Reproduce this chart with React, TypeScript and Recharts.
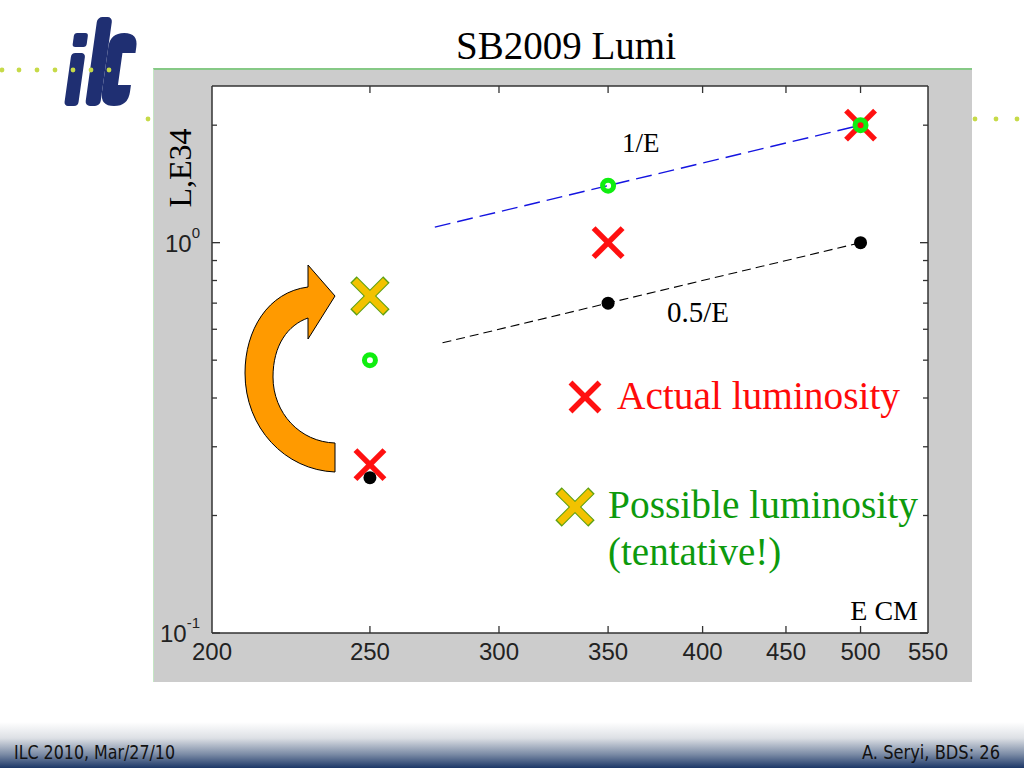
import React from 'react';
import { ScatterChart, Scatter, XAxis, YAxis, CartesianGrid } from 'recharts';

// ---- data ----
const energyTicks = [200, 250, 300, 350, 400, 450, 500, 550];
const lumTicks = [0.1, 0.2, 0.3, 0.4, 0.5, 0.6, 0.7, 0.8, 0.9, 1, 2];
const energies = [250, 350, 500];
const baselineLum = [0.25, 0.70, 1.0]; // black dots
const designLum = [0.50, 1.40, 2.0]; // green circles
const actualLum = [0.27, 1.0, 2.0]; // red crosses
const possibleE = [250];
const possibleLum = [0.73]; // yellow cross
const invELineE = [274, 500];
const invELineL = [1.096, 2.0];
const halfInvELineE = [277, 500];
const halfInvELineL = [0.554, 1.0];

const zip = (xs: number[], ys: number[]) => xs.map((E, i) => ({ E, L: ys[i] }));
const blackData = zip(energies, baselineLum);
const greenData = zip(energies, designLum);
const redData = zip(energies, actualLum);
const yellowData = zip(possibleE, possibleLum);
const blueLineData = zip(invELineE, invELineL);
const blackLineData = zip(halfInvELineE, halfInvELineL);

const SANS = '"Liberation Sans", Arial, sans-serif';
const SERIF = '"Liberation Serif", "Times New Roman", serif';
const AX = '#333';

const isMajor = (v: number) => v === 0.1 || v === 1;

const LeftTick = (props: any) => {
  const { x, y, payload } = props;
  const v = payload.value;
  const exp = v === 1 ? '0' : v === 0.1 ? '-1' : null;
  return (
    <g>
      <line x1={x} y1={y} x2={x + (isMajor(v) ? 8 : 5)} y2={y} stroke={AX} strokeWidth={1.3} />
      {exp !== null && (
        <text x={x - 12} y={y + 9} textAnchor="end" fontFamily={SANS} fontSize={24} fill="#222">
          10<tspan dy={-14} fontSize={15}>{exp}</tspan>
        </text>
      )}
    </g>
  );
};

const RightTick = (props: any) => {
  const { x, y, payload } = props;
  const v = payload.value;
  return <line x1={x - (isMajor(v) ? 8 : 5)} y1={y} x2={x} y2={y} stroke={AX} strokeWidth={1.3} />;
};

const BottomTick = (props: any) => {
  const { x, y, payload } = props;
  const v = payload.value;
  return (
    <g>
      {v > 200 && v < 550 && <line x1={x} y1={y} x2={x} y2={y - 7} stroke={AX} strokeWidth={1.3} />}
      <text x={x} y={y + 27} textAnchor="middle" fontFamily={SANS} fontSize={24} fill="#222">
        {v}
      </text>
    </g>
  );
};

const TopTick = (props: any) => {
  const { x, y, payload } = props;
  const v = payload.value;
  if (!(v > 200 && v < 550)) return <g />;
  return <line x1={x} y1={y} x2={x} y2={y + 7} stroke={AX} strokeWidth={1.3} />;
};

const RedCross = ({ cx, cy }: any) => (
  <g>
    <line x1={cx - 14.5} y1={cy - 14.5} x2={cx + 14.5} y2={cy + 14.5} stroke="#ff1010" strokeWidth={5.5} />
    <line x1={cx - 14.5} y1={cy + 14.5} x2={cx + 14.5} y2={cy - 14.5} stroke="#ff1010" strokeWidth={5.5} />
  </g>
);

const YellowCross = ({ cx, cy }: any) => (
  <g>
    <line x1={cx - 16.5} y1={cy - 16.5} x2={cx + 16.5} y2={cy + 16.5} stroke="#5aa010" strokeWidth={9} />
    <line x1={cx - 16.5} y1={cy + 16.5} x2={cx + 16.5} y2={cy - 16.5} stroke="#5aa010" strokeWidth={9} />
    <line x1={cx - 15.5} y1={cy - 15.5} x2={cx + 15.5} y2={cy + 15.5} stroke="#f2c200" strokeWidth={7} />
    <line x1={cx - 15.5} y1={cy + 15.5} x2={cx + 15.5} y2={cy - 15.5} stroke="#f2c200" strokeWidth={7} />
  </g>
);

const BlackDot = ({ cx, cy }: any) => <circle cx={cx} cy={cy} r={6.5} fill="#000" />;
const GreenRing = ({ cx, cy }: any) => (
  <circle cx={cx} cy={cy} r={5.5} fill="none" stroke="#10ee10" strokeWidth={5} />
);
const Nothing = () => <g />;

const FOOT_FONT = '"Liberation Sans Narrow", "DejaVu Sans Condensed", sans-serif';

const Decorations = () => (
  <svg
    width={1024}
    height={768}
    style={{ position: 'absolute', left: 0, top: 0, pointerEvents: 'none' }}
  >
    <defs>
      <linearGradient id="foot" x1="0" y1="0" x2="0" y2="1">
        <stop offset="0" stopColor="#ffffff" />
        <stop offset="0.35" stopColor="#dde0e5" />
        <stop offset="0.7" stopColor="#7c8ca6" />
        <stop offset="1" stopColor="#1c3767" />
      </linearGradient>
    </defs>
    {/* logo */}
    <g transform="translate(0,106) skewX(-8) translate(0,-106)" fill="#1f2f72">
      <rect x={64} y={53} width={14} height={53} rx={4} />
      <rect x={64} y={33} width={14} height={14} rx={3} />
      <rect x={85} y={17} width={15} height={89} rx={5} />
      <path d="M128,53 L128,47 Q128,33 114,33 Q100,33 100,47 L100,92 Q100,106 114,106 Q128,106 128,92 L128,85 L115,85 L115,53 Z" />
    </g>
    {[2, 19, 37, 55, 73, 91, 109].map((x) => (
      <circle key={x} cx={x} cy={70} r={2.4} fill="#c6da48" />
    ))}
    <circle cx={148} cy={119} r={2.4} fill="#c6da48" />
    {[975, 996, 1017].map((x) => (
      <circle key={x} cx={x} cy={119} r={2.4} fill="#c6da48" />
    ))}
    {/* title */}
    <text x={566} y={59} textAnchor="middle" fontFamily={SERIF} fontSize={39} fill="#000">
      SB2009 Lumi
    </text>
    {/* axis titles */}
    <text
      x={191}
      y={168}
      transform="rotate(-90 191 168)"
      textAnchor="middle"
      fontFamily={SERIF}
      fontSize={32}
      fill="#000"
    >
      L,E34
    </text>
    <text x={918} y={620} textAnchor="end" fontFamily={SERIF} fontSize={28} fill="#000">
      E CM
    </text>
    {/* line labels */}
    <text x={622} y={152} fontFamily={SERIF} fontSize={27} fill="#000">
      1/E
    </text>
    <text x={667} y={322} fontFamily={SERIF} fontSize={29} fill="#000">
      0.5/E
    </text>
    {/* legend annotations */}
    <RedCross cx={585} cy={397} />
    <text x={617} y={409} fontFamily={SERIF} fontSize={39} fill="#ff0a0a" textLength={283} lengthAdjust="spacingAndGlyphs">
      Actual luminosity
    </text>
    <YellowCross cx={575} cy={507} />
    <text x={608} y={518} fontFamily={SERIF} fontSize={39} fill="#0d9a0d" textLength={310} lengthAdjust="spacingAndGlyphs">
      Possible luminosity
    </text>
    <text x={608} y={565} fontFamily={SERIF} fontSize={39} fill="#0d9a0d">
      (tentative!)
    </text>
    {/* curved arrow */}
    <path
      d="M308,287 C268,292 245,330 245,373 C245,428 285,470 335,472 L335,443 C300,442 273,413 273,377 C273,345 288,325 308,318 L308,339 L335,296 L308,265 Z"
      fill="#ff9a00"
      stroke="#000"
      strokeWidth={1}
    />
    {/* footer */}
    <rect x={0} y={722} width={1024} height={46} fill="url(#foot)" />
    <text x={14} y={759} fontFamily={FOOT_FONT} fontSize={19} fill="#111" textLength={161} lengthAdjust="spacingAndGlyphs">
      ILC 2010, Mar/27/10
    </text>
    <text x={862} y={759} fontFamily={FOOT_FONT} fontSize={19} fill="#111" textLength={138} lengthAdjust="spacingAndGlyphs">
      A. Seryi, BDS: 26
    </text>
  </svg>
);

export default function App() {
  return (
    <div style={{ position: 'absolute', left: 0, top: 0, width: 1024, height: 768, overflow: 'hidden', background: '#fff' }}>
      <div
        style={{
          position: 'absolute',
          left: 153,
          top: 68,
          width: 819,
          height: 614,
          background: '#cccccc',
          borderTop: '2px solid #86c986',
          borderLeft: '1px solid #c4e6c4',
          boxSizing: 'border-box',
        }}
      />
      <div style={{ position: 'absolute', left: 0, top: 0 }}>
        <ScatterChart width={1024} height={768} margin={{ top: 85, right: 95, bottom: 134, left: 211 }}>
          <CartesianGrid fill="#ffffff" horizontal={false} vertical={false} />
          <XAxis
            xAxisId="b"
            dataKey="E"
            type="number"
            scale="log"
            domain={[200, 550]}
            allowDataOverflow
            ticks={energyTicks}
            interval={0}
            height={1}
            tickSize={0}
            tickMargin={0}
            tick={BottomTick}
            axisLine={{ stroke: AX, strokeWidth: 1.5 }}
          />
          <XAxis
            xAxisId="t"
            orientation="top"
            dataKey="E"
            type="number"
            scale="log"
            domain={[200, 550]}
            allowDataOverflow
            ticks={energyTicks}
            interval={0}
            height={1}
            tickSize={0}
            tickMargin={0}
            tick={TopTick}
            axisLine={{ stroke: AX, strokeWidth: 1.5 }}
          />
          <YAxis
            yAxisId="l"
            dataKey="L"
            type="number"
            scale="log"
            domain={[0.1, 2.52]}
            allowDataOverflow
            ticks={lumTicks}
            interval={0}
            width={1}
            tickSize={0}
            tickMargin={0}
            tick={LeftTick}
            axisLine={{ stroke: AX, strokeWidth: 1.5 }}
          />
          <YAxis
            yAxisId="r"
            orientation="right"
            dataKey="L"
            type="number"
            scale="log"
            domain={[0.1, 2.52]}
            allowDataOverflow
            ticks={lumTicks}
            interval={0}
            width={1}
            tickSize={0}
            tickMargin={0}
            tick={RightTick}
            axisLine={{ stroke: AX, strokeWidth: 1.5 }}
          />
          <Scatter xAxisId="t" yAxisId="r" data={blackData} shape={Nothing} isAnimationActive={false} />
          <Scatter
            xAxisId="b"
            yAxisId="l"
            data={blueLineData}
            shape={Nothing}
            line={{ stroke: '#1414e0', strokeWidth: 1.4, strokeDasharray: '16 7' }}
            isAnimationActive={false}
          />
          <Scatter
            xAxisId="b"
            yAxisId="l"
            data={blackLineData}
            shape={Nothing}
            line={{ stroke: '#000', strokeWidth: 1.1, strokeDasharray: '9 5' }}
            isAnimationActive={false}
          />
          <Scatter xAxisId="b" yAxisId="l" data={redData} shape={RedCross} isAnimationActive={false} />
          <Scatter xAxisId="b" yAxisId="l" data={yellowData} shape={YellowCross} isAnimationActive={false} />
          <Scatter xAxisId="b" yAxisId="l" data={blackData} shape={BlackDot} isAnimationActive={false} />
          <Scatter xAxisId="b" yAxisId="l" data={greenData} shape={GreenRing} isAnimationActive={false} />
        </ScatterChart>
      </div>
      <Decorations />
    </div>
  );
}
